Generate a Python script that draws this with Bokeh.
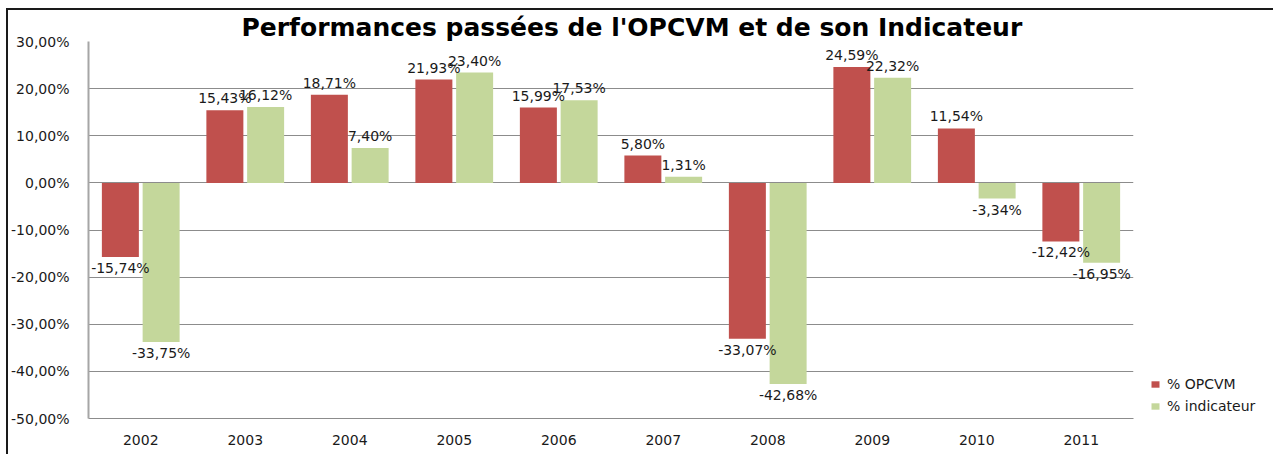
from bokeh.plotting import figure
from bokeh.models import ColumnDataSource, FactorRange, Legend, LegendItem, Range1d
from bokeh.transform import dodge
from bokeh.core.properties import value
from bokeh.embed import file_html
from bokeh.resources import INLINE

years = ["2002", "2003", "2004", "2005", "2006", "2007", "2008", "2009", "2010", "2011"]
opcvm = [-15.74, 15.43, 18.71, 21.93, 15.99, 5.80, -33.07, 24.59, 11.54, -12.42]
indic = [-33.75, 16.12, 7.40, 23.40, 17.53, 1.31, -42.68, 22.32, -3.34, -16.95]
y_ticks = [-50, -40, -30, -20, -10, 0, 10, 20, 30]
title_text = "Performances passées de l'OPCVM et de son Indicateur"
series_names = ["% OPCVM", "% indicateur"]
colors = ["#C0504D", "#C4D79B"]

def fmt(v):
    return ("%.2f%%" % v).replace(".", ",")

p = figure(frame_width=1045, frame_height=377, x_range=FactorRange(*years),
           y_range=Range1d(-50, 30), output_backend="svg", toolbar_location=None,
           min_border_left=80, min_border_right=140, min_border_top=26, min_border_bottom=41,
           title=title_text)
p.width = None
p.height = None
p.styles = {"margin-left": "8px", "margin-top": "10px",
            "box-shadow": "-2px -2px 0px 0px #1a1a1a"}
p.outline_line_color = None
p.background_fill_color = "white"
p.border_fill_color = "white"

p.title.align = "left"
p.title.offset = 153
p.title.standoff = 0
p.title.text_line_height = 0.75
p.title.vertical_align = "bottom"
p.title.text_font = "DejaVu Sans"
p.title.text_font_style = "bold"
p.title.text_font_size = "25px"
p.title.text_color = "#000000"

p.xgrid.grid_line_color = None
p.ygrid.grid_line_color = "#8c8c8c"
p.ygrid.grid_line_width = 1
p.yaxis.ticker = y_ticks
p.yaxis.major_label_overrides = {v: fmt(v) for v in y_ticks}

for ax in (p.xaxis, p.yaxis):
    ax.major_tick_line_color = None
    ax.minor_tick_line_color = None
    ax.major_label_text_font = "DejaVu Sans"
    ax.major_label_text_font_size = "14px"
    ax.major_label_text_color = "#1a1a1a"
p.yaxis.axis_line_color = "#a6a6a6"
p.yaxis.axis_line_width = 2
p.yaxis.major_label_standoff = 13
p.xaxis.axis_line_color = "#8c8c8c"
p.xaxis.major_label_standoff = 10

src = ColumnDataSource(dict(year=years, opcvm=opcvm, indic=indic))
off = 0.195
bw = 0.354
r1 = p.vbar(x=dodge("year", -off, range=p.x_range), top="opcvm", width=bw, source=src,
            fill_color=colors[0], line_color=None)
r2 = p.vbar(x=dodge("year", off, range=p.x_range), top="indic", width=bw, source=src,
            fill_color=colors[1], line_color=None)

# data labels
for vals, o in ((opcvm, -off), (indic, off)):
    pos = [i for i, v in enumerate(vals) if v >= 0]
    neg = [i for i, v in enumerate(vals) if v < 0]
    sp = ColumnDataSource(dict(x=[years[i] for i in pos], y=[vals[i] for i in pos],
                               t=[fmt(vals[i]) for i in pos]))
    sn = ColumnDataSource(dict(x=[years[i] for i in neg], y=[vals[i] for i in neg],
                               t=[fmt(vals[i]) for i in neg]))
    p.text(x=dodge("x", o, range=p.x_range), y="y", text="t", source=sp,
           text_align="center", text_baseline="bottom", y_offset=-4,
           text_font=value("DejaVu Sans"), text_font_size="14px", text_color="#1a1a1a")
    p.text(x=dodge("x", o, range=p.x_range), y="y", text="t", source=sn,
           text_align="center", text_baseline="top", y_offset=3,
           text_font=value("DejaVu Sans"), text_font_size="14px", text_color="#1a1a1a")

legend = Legend(items=[LegendItem(label=series_names[0], renderers=[r1]),
                       LegendItem(label=series_names[1], renderers=[r2])],
                location=(17, 4), orientation="vertical", border_line_color=None,
                background_fill_alpha=0, label_text_font="DejaVu Sans",
                label_text_font_size="14px", label_text_color="#1a1a1a",
                glyph_width=10, glyph_height=8, spacing=6, label_standoff=7, padding=4,
                margin=0)
p.add_layout(legend, "right")

open("out.html", "w").write(file_html(p, INLINE))
